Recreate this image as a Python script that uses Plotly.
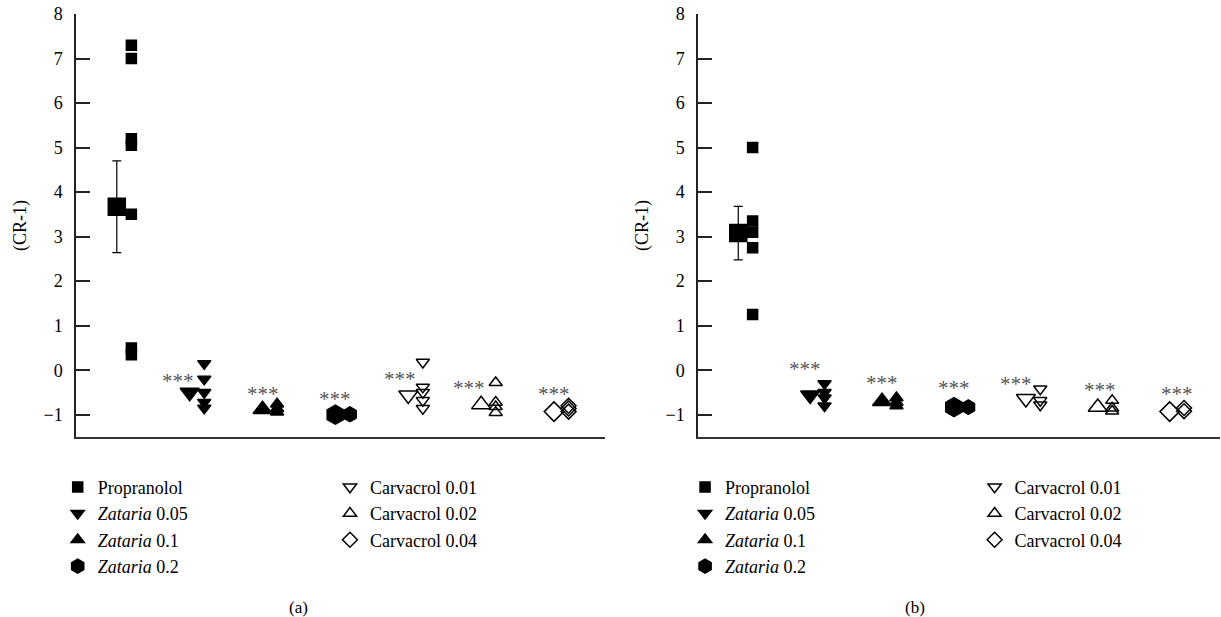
import plotly.graph_objects as go

# ---------------- data ----------------
groups = ["Propranolol", "<i>Zataria</i> 0.05", "<i>Zataria</i> 0.1", "<i>Zataria</i> 0.2",
          "Carvacrol 0.01", "Carvacrol 0.02", "Carvacrol 0.04"]
group_pos = [1, 2, 3, 4, 5, 6, 7]

# panel (a) individual values
prop_a = [7.3, 7.0, 5.2, 5.05, 3.5, 0.5, 0.35]
z005_a = [0.15, -0.2, -0.5, -0.72, -0.85]
z01_a = [-0.76, -0.86, -0.94]
z02_a = [-0.98, -1.0]
c001_a = [0.18, -0.38, -0.5, -0.68, -0.86]
c002_a = [-0.28, -0.72, -0.82, -0.95]
c004_a = [-0.8, -0.86, -0.93]
mean_a = [3.67, -0.5, -0.88, -1.0, -0.56, -0.77, -0.93]
sem_a = [1.03, 0, 0, 0, 0, 0, 0]

# panel (b) individual values
prop_b = [5.0, 3.35, 3.1, 2.75, 1.25]
z005_b = [-0.3, -0.5, -0.62, -0.8]
z01_b = [-0.62, -0.72, -0.8]
z02_b = [-0.83, -0.83]
c001_b = [-0.42, -0.68, -0.78]
c002_b = [-0.68, -0.85, -0.92]
c004_b = [-0.85, -0.92]
mean_b = [3.08, -0.56, -0.7, -0.83, -0.64, -0.83, -0.93]
sem_b = [0.6, 0, 0, 0, 0, 0, 0]

star_text = "***"
# significance-label heights (value units) and horizontal shifts (group units)
star_a_y = [None, -0.24, -0.53, -0.64, -0.2, -0.4, -0.53]
star_a_dx = [0, -0.16, 0, 0, -0.12, -0.16, 0]
star_b_y = [None, 0.03, -0.28, -0.4, -0.3, -0.44, -0.53]
star_b_dx = [0, -0.07, 0, 0, -0.14, 0.03, 0.1]

# ---------------- styling ----------------
symbols = ["square", "triangle-down", "triangle-up", "hexagon",
           "triangle-down-open", "triangle-up-open", "diamond-open"]
size_ind = [10, 11.5, 11.5, 14, 11.5, 11.5, 11.5]
size_mean = [17, 16.5, 16.5, 19, 16.5, 16.5, 15]
FONT = "Liberation Serif, Times New Roman, serif"
OFFSET = 0.2

fig = go.Figure()

panels = [
    ("x", "y", [prop_a, z005_a, z01_a, z02_a, c001_a, c002_a, c004_a], mean_a, sem_a,
     ["legend", "legend", "legend", "legend", "legend2", "legend2", "legend2"]),
    ("x2", "y2", [prop_b, z005_b, z01_b, z02_b, c001_b, c002_b, c004_b], mean_b, sem_b,
     ["legend3", "legend3", "legend3", "legend3", "legend4", "legend4", "legend4"]),
]

for xa, ya, vals, means, sems, legs in panels:
    for i, g in enumerate(groups):
        kw = {}
        if sems[i] > 0:
            kw["error_y"] = dict(type="data", array=[sems[i]], color="black",
                                 thickness=1.2, width=4.5)
        fig.add_trace(go.Scatter(
            x=[group_pos[i]], y=[means[i]], mode="markers", xaxis=xa, yaxis=ya,
            marker=dict(symbol=symbols[i], size=size_mean[i], color="black",
                        line=dict(color="black", width=1.5)),
            showlegend=False, hoverinfo="skip", **kw))
        fig.add_trace(go.Scatter(
            x=[group_pos[i] + OFFSET] * len(vals[i]), y=vals[i], mode="markers",
            xaxis=xa, yaxis=ya, name=g, legend=legs[i],
            marker=dict(symbol=symbols[i], size=size_ind[i], color="black",
                        line=dict(color="black", width=1.5))))

annotations = []
for xr, yr, sy, sdx in [("x", "y", star_a_y, star_a_dx), ("x2", "y2", star_b_y, star_b_dx)]:
    for i in range(len(groups)):
        if sy[i] is None:
            continue
        annotations.append(dict(x=group_pos[i] + sdx[i], y=sy[i], xref=xr, yref=yr,
                                text=star_text, showarrow=False,
                                font=dict(family=FONT, size=21, color="#555555")))

annotations += [
    dict(x=0.1844, y=-0.43, xref="paper", yref="paper", text="(a)", showarrow=False,
         font=dict(family=FONT, size=17, color="black")),
    dict(x=0.7439, y=-0.43, xref="paper", yref="paper", text="(b)", showarrow=False,
         font=dict(family=FONT, size=17, color="black")),
]

yaxis_style = dict(range=[-1.5, 8], tickvals=[-1, 0, 1, 2, 3, 4, 5, 6, 7, 8],
                   ticks="inside", ticklen=14, tickwidth=1.5, tickcolor="#222",
                   showline=True, linecolor="#222", linewidth=1.5, showgrid=False,
                   zeroline=False, ticklabelstandoff=8,
                   tickfont=dict(family=FONT, size=18, color="black"),
                   title=dict(text="(CR-1)", font=dict(family=FONT, size=18, color="black"),
                              standoff=12))
xaxis_style = dict(range=[0.44, 7.7], showline=True, linecolor="#333", linewidth=1.5,
                   showticklabels=False, ticks="", showgrid=False, zeroline=False)

leg_common = dict(font=dict(family=FONT, size=18, color="black"), bgcolor="rgba(0,0,0,0)",
                  yanchor="top", xanchor="left", y=-0.075, itemsizing="trace",
                  tracegroupgap=0)

fig.update_layout(
    width=1221, height=617,
    margin=dict(l=76, r=1, t=14, b=180),
    paper_bgcolor="white", plot_bgcolor="white",
    xaxis=dict(domain=[0, 0.4624], **xaxis_style),
    xaxis2=dict(domain=[0.5437, 1.0], **xaxis_style),
    yaxis=dict(anchor="x", **yaxis_style),
    yaxis2=dict(anchor="x2", **yaxis_style),
    legend=dict(x=-0.016, **leg_common),
    legend2=dict(x=0.222, **leg_common),
    legend3=dict(x=0.5324, **leg_common),
    legend4=dict(x=0.7855, **leg_common),
    annotations=annotations,
)

# remove the default page margin so the figure sits at the window's top-left corner
fig.write_html("out.html", config={"displayModeBar": False},
               post_script="document.body.style.margin='0';")
